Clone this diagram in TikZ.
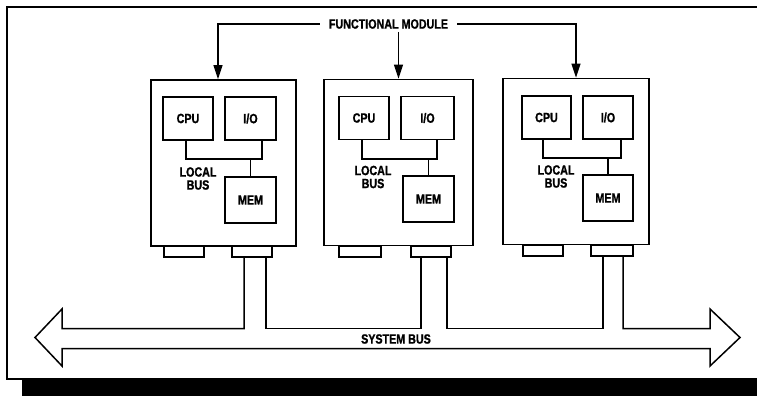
\documentclass[tikz,border=0pt]{standalone}
\usepackage{fontspec}
\setmainfont{Liberation Sans}
\newfontfamily\lbff{Liberation Sans}[FakeStretch=0.8, FakeBold=1.2]
\usetikzlibrary{arrows.meta}
\tikzset{
  modbox/.style={draw, line width=1.8pt, minimum height=166pt, inner sep=0pt},
  unit/.style={draw, line width=1.4pt, minimum height=43pt, inner sep=0pt, font=\lbfont},
  memu/.style={draw, line width=1.4pt, minimum height=46pt, inner sep=0pt, font=\lbfont},
  port/.style={draw, line width=1.3pt, minimum height=11pt, inner sep=0pt},
  lbl/.style={font=\lbfont, align=center, inner sep=0pt},
  wire/.style={line width=1.3pt},
  feed/.style={line width=1.3pt, -{Triangle[length=14pt,width=9pt]}},
  busline/.style={line width=1.5pt, line join=miter},
}
\newcommand{\lbfont}{\lbff\bfseries\fontsize{13.4}{13}\selectfont}
\begin{document}
\begin{tikzpicture}[x=1pt,y=-1pt]
\useasboundingbox (0,0) rectangle (757,396);
% frame
\draw[line width=2.2pt] (757,7) -- (7,7) -- (7,379) -- (22,379);
\fill (22,378) rectangle (757,396);

% modules
\node[modbox, minimum width=145pt] (m1) at (223.5,163) {};
\node[modbox, minimum width=149pt] (m2) at (398.5,162.5) {};
\node[modbox, minimum width=146pt] (m3) at (576,161.5) {};

% module 1 contents
\node[unit, minimum width=50pt] (c1) at (188,118.5) {CPU};
\node[unit, minimum width=51pt] (i1) at (250.5,118.5) {I/O};
\node[memu, minimum width=51pt] (e1) at (250.5,200) {MEM};
\node[lbl] (t1) at (198,178.5) {LOCAL\\BUS};
\coordinate (lb1) at (0,159);
\coordinate (cs1) at ([xshift=-2pt]c1.south);
\coordinate (is1) at ([xshift=11.5pt]i1.south);
\draw[wire] (cs1) -- (cs1 |- lb1) -| (is1);
\draw[wire] (e1.north) -- (e1.north |- lb1);

% module 2 contents
\node[unit, minimum width=50pt] (c2) at (364,118) {CPU};
\node[unit, minimum width=53pt] (i2) at (427.5,118) {I/O};
\node[memu, minimum width=51pt] (e2) at (428.5,199) {MEM};
\node[lbl] (t2) at (373,177) {LOCAL\\BUS};
\coordinate (lb2) at (0,159);
\coordinate (cs2) at ([xshift=-2pt]c2.south);
\coordinate (is2) at ([xshift=9.5pt]i2.south);
\draw[wire] (cs2) -- (cs2 |- lb2) -| (is2);
\draw[wire] (e2.north) -- (e2.north |- lb2);

% module 3 contents
\node[unit, minimum width=49pt] (c3) at (546.5,117.5) {CPU};
\node[unit, minimum width=50pt] (i3) at (608,117.5) {I/O};
\node[memu, minimum width=50pt] (e3) at (608,198) {MEM};
\node[lbl] (t3) at (556,176.5) {LOCAL\\BUS};
\coordinate (lb3) at (0,158);
\coordinate (cs3) at ([xshift=-3.5pt]c3.south);
\coordinate (is3) at ([xshift=13pt]i3.south);
\draw[wire] (cs3) -- (cs3 |- lb3) -| (is3);
\draw[wire] (e3.north) -- (e3.north |- lb3);

% ports
\node[port, minimum width=40pt] (p1a) at (184,251.5) {};
\node[port, minimum width=40pt] (p1b) at (252,251.5) {};
\node[port, minimum width=42pt] (p2a) at (360,251.5) {};
\node[port, minimum width=40pt] (p2b) at (431,251.5) {};
\node[port, minimum width=40pt] (p3a) at (543,250.5) {};
\node[port, minimum width=42pt] (p3b) at (612,250.5) {};

% functional module label
\node[lbl, inner xsep=9pt, inner ysep=3pt] (fm) at (388.5,24) {FUNCTIONAL MODULE};
\coordinate (a1) at ([xshift=-5.5pt]m1.north);
\draw[feed] (fm.west) -| (a1);
\draw[feed] (fm.south -| m2.north) -- (m2.north);
\draw[feed] (fm.east) -| (m3.north);

% system bus
\coordinate (bt) at (0,328.5);
\coordinate (s1l) at ([xshift=-8pt]p1b.south);
\coordinate (s1r) at ([xshift=14pt]p1b.south);
\coordinate (s2l) at ([xshift=-10pt]p2b.south);
\coordinate (s2r) at ([xshift=16pt]p2b.south);
\coordinate (s3l) at ([xshift=-9pt]p3b.south);
\coordinate (s3r) at ([xshift=11pt]p3b.south);
\draw[busline] (s1l) -- (s1l |- bt) -- (62,328.5) -- (62,309) -- (35,337.5) -- (62,366)
  -- (62,348.5) -- (710,348.5) -- (710,366) -- (740,337.5) -- (710,309) -- (710,328.5)
  -- (s3r |- bt) -- (s3r);
\draw[busline] (s1r) -- (s1r |- bt) -| (s2l);
\draw[busline] (s2r) -- (s2r |- bt) -| (s3l);
\node[lbl] (sb) at (396,339) {SYSTEM BUS};
\end{tikzpicture}
\end{document}
